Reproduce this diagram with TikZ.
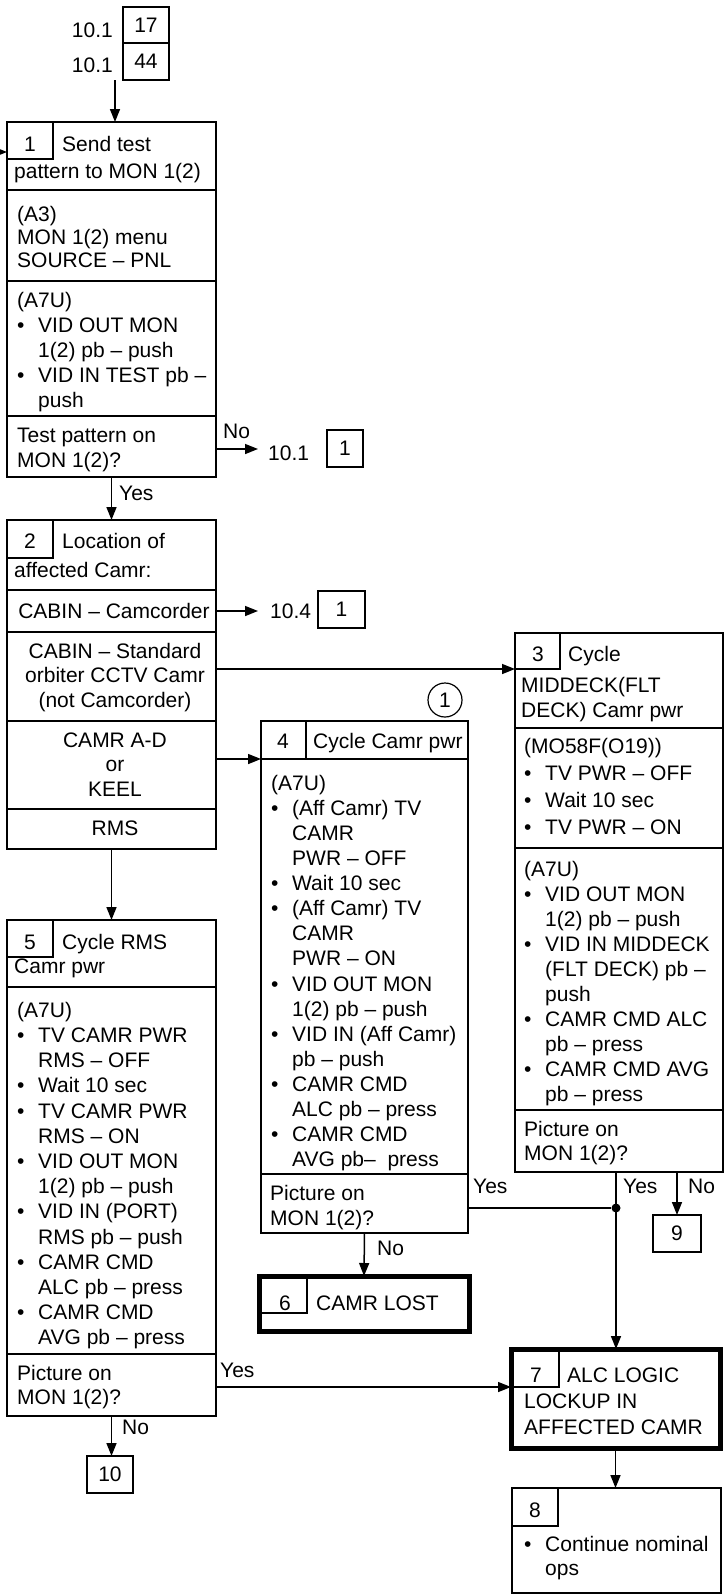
\documentclass[tikz,border=0pt]{standalone}
\usepackage{fontspec}
\setmainfont{Liberation Sans}
\usetikzlibrary{arrows.meta}
\newcommand\fst{\rule{0pt}{16pt}}
\newcommand\bl{\makebox[21pt][l]{\textbullet}}
\newcommand\ind{\hspace*{21pt}}
\newcommand\fsz[1]{\fontsize{21}{#1}\selectfont}
\begin{document}
\begin{tikzpicture}[x=1pt,y=-1pt,
  every node/.style={inner sep=0pt, font=\fsz{25}},
  box/.style={draw, line width=2.4pt, anchor=north west, inner sep=0pt, outer sep=0pt},
  thickbox/.style={box, line width=5pt},
  numbox/.style={draw, line width=1.2pt, anchor=north west, outer sep=0pt},
  refbox/.style={draw, line width=1.5pt, anchor=north west, outer sep=0pt},
  div/.style={line width=2.2pt},
  arr/.style={line width=1.5pt, -{Triangle[length=13pt,width=10pt]}},
  conn/.style={line width=1.5pt},
  tb/.style={anchor=north west, align=left, yshift=16pt},
  tbc/.style={anchor=north, align=center, yshift=16pt},
  lab/.style={anchor=base west},
  num/.style={anchor=base},
  dot/.style={circle, fill, minimum size=9pt},
]
\fill[white] (0,0) rectangle (727,1596);
\useasboundingbox (0,0) rectangle (727,1596);

% ---------- top references
\node[refbox, minimum width=46pt, minimum height=36pt] (r17) at (123,7) {17};
\node[refbox, minimum width=46pt, minimum height=37pt] (r44) at (123,43) {44};
\node[anchor=base east] (l17) at (113,37) {10.1};
\node[anchor=base east] (l44) at (113,72) {10.1};
\coordinate (ctop) at (115,80);
\coordinate (cleft) at (0,152);

% ---------- box 1
\node[box, minimum width=209pt, minimum height=355pt] (b1) at (7,122) {};
\node[numbox, minimum width=46pt, minimum height=37pt] (n1) at (7,122) {};
\draw[div] (7,190) -- (216,190);
\draw[div] (7,281) -- (216,281);
\draw[div] (7,416) -- (216,416);
\node[num] (n1t) at (30,151) {1};
\node[lab] (h1a) at (62,151) {Send test};
\node[lab] (h1b) at (14,178) {pattern to MON 1(2)};
\node[tb, font=\fsz{23.2}] (t1a) at (17,221) {\fst(A3)\\MON 1(2) menu\\SOURCE – PNL};
\node[tb] (t1b) at (17,307) {\fst(A7U)\\\bl VID OUT MON\\\ind 1(2) pb – push\\\bl VID IN TEST pb –\\\ind push};
\node[tb] (t1c) at (17,442) {\fst Test pattern on\\MON 1(2)?};

\coordinate (e1) at (258,449);
\node[lab] (l1no) at (268,460) {10.1};
\node[refbox, minimum width=36pt, minimum height=37pt] (r1a) at (327,430) {1};

% ---------- box 2
\node[box, minimum width=209pt, minimum height=329pt] (b2) at (7,520) {};
\node[numbox, minimum width=46pt, minimum height=38pt] (n2) at (7,520) {};
\draw[div] (7,590) -- (216,590);
\draw[div] (7,632) -- (216,632);
\draw[div] (7,721) -- (216,721);
\draw[div] (7,809) -- (216,809);
\node[num] (n2t) at (30,548) {2};
\node[lab] (h2a) at (62,548) {Location of};
\node[lab] (h2b) at (14,577) {affected Camr:};
\node[num] (t2a) at (114,618) {CABIN – Camcorder};
\node[tbc, font=\fsz{24.5}] (t2b) at (115,658) {\fst CABIN – Standard\\orbiter CCTV Camr\\(not Camcorder)};
\node[tbc, font=\fsz{24.5}] (t2c) at (115,747) {\fst CAMR A-D\\or\\KEEL};
\node[num] (t2d) at (115,835) {RMS};

\coordinate (e2) at (258,611);
\node[lab] (l2cam) at (270,618) {10.4};
\node[refbox, minimum width=47pt, minimum height=37pt] (r1b) at (318,591) {1};

% ---------- box 3
\node[box, minimum width=208pt, minimum height=539pt] (b3) at (515,633) {};
\node[numbox, minimum width=45pt, minimum height=36pt] (n3) at (515,633) {};
\draw[div] (515,728) -- (723,728);
\draw[div] (515,848) -- (723,848);
\draw[div] (515,1110) -- (723,1110);
\node[num] (n3t) at (538,661) {3};
\node[lab] (h3a) at (568,661) {Cycle};
\node[tb] (h3b) at (521,692) {\fst MIDDECK(FLT\\DECK) Camr pwr};
\node[tb, font=\fsz{27}] (t3a) at (524,753) {\fst(MO58F(O19))\\\bl TV PWR – OFF\\\bl Wait 10 sec\\\bl TV PWR – ON};
\node[tb] (t3b) at (524,876) {\fst(A7U)\\\bl VID OUT MON\\\ind 1(2) pb – push\\\bl VID IN MIDDECK\\\ind (FLT DECK) pb –\\\ind push\\\bl CAMR CMD ALC\\\ind pb – press\\\bl CAMR CMD AVG\\\ind pb – press};
\node[tb, font=\fsz{24}] (t3c) at (524,1136) {\fst Picture on\\MON 1(2)?};

% ---------- box 4
\node[circle, draw, line width=1.2pt, minimum size=34pt] (c1) at (445,700) {1};
\node[box, minimum width=207pt, minimum height=512pt] (b4) at (261,721) {};
\node[numbox, minimum width=45pt, minimum height=38pt] (n4) at (261,721) {};
\draw[div] (261,759) -- (468,759);
\draw[div] (261,1174) -- (468,1174);
\node[num] (n4t) at (283,748) {4};
\node[lab] (h4a) at (313,748) {Cycle Camr pwr};
\node[tb, font=\fsz{25.1}] (t4a) at (271,790) {\fst(A7U)\\\bl (Aff Camr) TV\\\ind CAMR\\\ind PWR – OFF\\\bl Wait 10 sec\\\bl (Aff Camr) TV\\\ind CAMR\\\ind PWR – ON\\\bl VID OUT MON\\\ind 1(2) pb – push\\\bl VID IN (Aff Camr)\\\ind pb – push\\\bl CAMR CMD\\\ind ALC pb – press\\\bl CAMR CMD\\\ind AVG pb–\ \ press};
\node[tb] (t4b) at (270,1200) {\fst Picture on\\MON 1(2)?};

% ---------- box 5
\node[box, minimum width=209pt, minimum height=496pt] (b5) at (7,920) {};
\node[numbox, minimum width=46pt, minimum height=37pt] (n5) at (7,920) {};
\draw[div] (7,987) -- (216,987);
\draw[div] (7,1354) -- (216,1354);
\node[num] (n5t) at (30,949) {5};
\node[lab] (h5a) at (62,949) {Cycle RMS};
\node[lab] (h5b) at (14,973) {Camr pwr};
\node[tb, font=\fsz{25.2}] (t5a) at (17,1017) {\fst(A7U)\\\bl TV CAMR PWR\\\ind RMS – OFF\\\bl Wait 10 sec\\\bl TV CAMR PWR\\\ind RMS – ON\\\bl VID OUT MON\\\ind 1(2) pb – push\\\bl VID IN (PORT)\\\ind RMS pb – push\\\bl CAMR CMD\\\ind ALC pb – press\\\bl CAMR CMD\\\ind AVG pb – press};
\node[tb, font=\fsz{24}] (t5b) at (17,1380) {\fst Picture on\\MON 1(2)?};

% ---------- box 6
\node[thickbox, minimum width=210pt, minimum height=55pt] (b6) at (259,1276) {};
\node[numbox, minimum width=48pt, minimum height=37pt] (n6) at (259,1276) {};
\node[num] (n6t) at (285,1310) {6};
\node[lab] (h6a) at (316,1310) {CAMR LOST};

% ---------- box 7
\node[thickbox, minimum width=209pt, minimum height=99pt] (b7) at (511,1349) {};
\node[numbox, minimum width=48pt, minimum height=38pt] (n7) at (511,1349) {};
\node[num] (n7t) at (536,1382) {7};
\node[lab] (h7a) at (567,1382) {ALC LOGIC};
\node[tb, font=\fsz{26}] (h7b) at (524,1408) {\fst LOCKUP IN\\AFFECTED CAMR};

% ---------- box 8
\node[box, minimum width=209pt, minimum height=105pt] (b8) at (512,1488) {};
\node[numbox, minimum width=46pt, minimum height=38pt] (n8) at (512,1488) {};
\node[num] (n8t) at (535,1517) {8};
\node[tb, font=\fsz{24}] (t8a) at (524,1551) {\fst\bl Continue nominal\\\ind ops};

% ---------- small references
\node[refbox, minimum width=48pt, minimum height=37pt] (r9) at (653,1215) {9};
\node[refbox, minimum width=46pt, minimum height=37pt] (r10) at (87,1456) {10};

% ---------- connectors
\draw[arr] (ctop) -- (ctop |- b1.north);
\draw[arr] (cleft) -- (cleft -| b1.west);
\draw[arr] (b1.east |- e1) -- (e1);
\node[lab] (y1no) at (223,438) {No};
\draw[arr] (b1.south) -- (b2.north);
\node[lab] (y1yes) at (119,500) {Yes};

\draw[arr] (b2.east |- e2) -- (e2);
\draw[arr] (b2.east |- n3.south) -- (b3.west |- n3.south);
\draw[arr] (b2.east |- n4.south) -- (b4.west |- n4.south);
\draw[arr] (b2.south) -- (b5.north);

\node[dot] (dt) at (616,1208) {};
\draw[conn] (b4.east |- dt) -- (dt);
\node[lab] (y4yes) at (473,1193) {Yes};
\draw[arr] (dt |- b3.south) -- (dt |- b7.north);
\node[lab] (y3yes) at (623,1193) {Yes};
\draw[arr] (r9.north |- b3.south) -- (r9.north);
\node[lab] (y3no) at (688,1193) {No};
\draw[arr] (b4.south) -- (b6.north);
\node[lab] (y4no) at (377,1255) {No};

\draw[arr] (b5.east |- n7.south) -- (n7.south -| b7.west);
\node[lab] (y5yes) at (220,1377) {Yes};
\draw[arr] (b5.south) -- (b5.south |- r10.north);
\node[lab] (y5no) at (122,1434) {No};

\draw[arr] (b7.south) -- (b7.south |- b8.north);
\end{tikzpicture}
\end{document}
